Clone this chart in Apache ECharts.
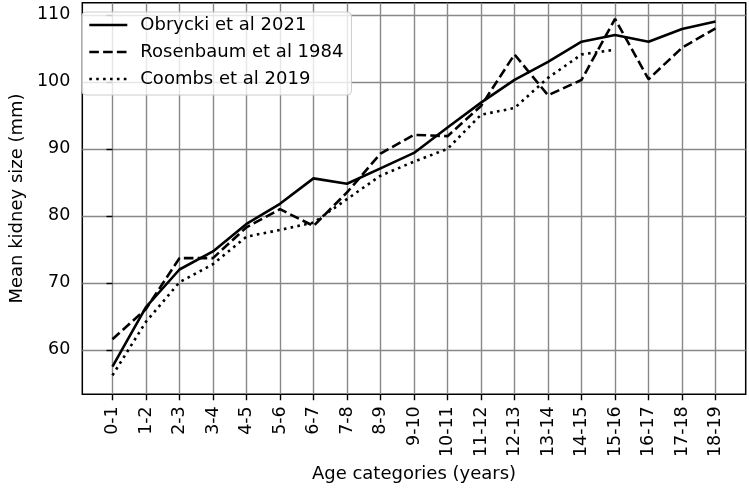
<!DOCTYPE html>
<html>
<head>
<meta charset="utf-8">
<script src="https://cdn.jsdelivr.net/npm/echarts@6/dist/echarts.min.js"></script>
<style>
  html, body { margin: 0; padding: 0; background: #fff; }
  #main { width: 749px; height: 488px; }
</style>
</head>
<body>
<div id="main"></div>
<script>
const categories = ['0-1', '1-2', '2-3', '3-4', '4-5', '5-6', '6-7', '7-8', '8-9', '9-10',
  '10-11', '11-12', '12-13', '13-14', '14-15', '15-16', '16-17', '17-18', '18-19'];

const obrycki = [57.5, 66.4, 72.0, 74.7, 78.8, 81.8, 85.6, 84.8, 87.1, 89.4,
  93.2, 96.9, 100.3, 103.0, 106.0, 107.0, 106.0, 107.9, 109.0];
const rosenbaum = [61.6, 66.1, 73.7, 73.7, 78.3, 81.0, 78.5, 83.5, 89.3, 92.1,
  91.9, 96.4, 104.1, 98.0, 100.3, 109.4, 100.4, 105.1, 108.0];
const coombs = [56.2, 64.2, 70.1, 72.8, 76.9, 77.9, 79.0, 82.5, 86.0, 88.1,
  90.0, 95.1, 96.1, 100.6, 104.1, 104.8, null, null, null];

const yTicks = [60, 70, 80, 90, 100, 110];
const xTicks = categories.map((c, i) => i);

const font = 'DejaVu Sans';

function pairs(values) {
  return values.map((v, i) => [i, v]);
}

const chart = echarts.init(document.getElementById('main'));

const option = {
  animation: false,
  backgroundColor: '#fff',
  textStyle: { fontFamily: font },
  grid: {
    left: 72.7,
    right: 3.3,
    top: 2.7,
    bottom: 92,
    show: true,
    borderColor: '#000',
    borderWidth: 1.5,
    containLabel: false
  },
  legend: {
    orient: 'vertical',
    left: 82,
    top: 12,
    padding: [3, 8, 6, 6],
    itemWidth: 38,
    itemHeight: 14,
    itemGap: 7,
    backgroundColor: 'rgba(255,255,255,0.8)',
    borderColor: '#cccccc',
    borderWidth: 1,
    borderRadius: 4,
    // hide the default circle marker, keep only the line sample
    itemStyle: { color: 'rgba(0,0,0,0)', borderWidth: 0, opacity: 0 },
    lineStyle: { width: 2.6 },
    textStyle: {
      fontFamily: font,
      fontSize: 18,
      color: '#000',
      lineHeight: 20,
      padding: [0, 0, 0, 8]
    },
    data: ['Obrycki et al 2021', 'Rosenbaum et al 1984', 'Coombs et al 2019']
  },
  xAxis: {
    type: 'value',
    min: -0.9,
    max: 18.9,
    name: 'Age categories (years)',
    nameLocation: 'middle',
    nameGap: 66,
    nameTextStyle: { fontFamily: font, fontSize: 18, color: '#000' },
    axisLine: { show: false },
    axisTick: {
      show: true,
      length: 6,
      customValues: xTicks,
      lineStyle: { color: '#000', width: 1.4 }
    },
    axisLabel: {
      customValues: xTicks,
      rotate: 90,
      margin: 12,
      fontFamily: font,
      fontSize: 17.5,
      color: '#000',
      formatter: function (v) { return categories[Math.round(v)]; }
    },
    splitLine: {
      show: true,
      customValues: xTicks,
      lineStyle: { color: '#888', width: 1.4 }
    }
  },
  yAxis: {
    type: 'value',
    min: 53.38,
    max: 111.82,
    name: 'Mean kidney size (mm)',
    nameLocation: 'middle',
    nameRotate: 90,
    nameGap: 53,
    nameTextStyle: { fontFamily: font, fontSize: 18, color: '#000' },
    axisLine: { show: false },
    axisTick: {
      show: true,
      length: 6,
      customValues: yTicks,
      lineStyle: { color: '#000', width: 1.4 }
    },
    axisLabel: {
      customValues: yTicks,
      margin: 12,
      fontFamily: font,
      fontSize: 17.5,
      color: '#000'
    },
    splitLine: {
      show: true,
      customValues: yTicks,
      lineStyle: { color: '#888', width: 1.4 }
    }
  },
  series: [
    {
      name: 'Obrycki et al 2021',
      type: 'line',
      symbol: 'none',
      data: pairs(obrycki),
      lineStyle: { color: '#000', width: 2.6, type: 'solid' },
      itemStyle: { color: '#000' }
    },
    {
      name: 'Rosenbaum et al 1984',
      type: 'line',
      symbol: 'none',
      data: pairs(rosenbaum),
      lineStyle: { color: '#000', width: 2.6, type: [9.6, 4.2], cap: 'butt' },
      itemStyle: { color: '#000' }
    },
    {
      name: 'Coombs et al 2019',
      type: 'line',
      symbol: 'none',
      data: pairs(coombs),
      lineStyle: { color: '#000', width: 2.6, type: [2.6, 4.3], cap: 'butt' },
      itemStyle: { color: '#000' }
    }
  ]
};

chart.setOption(option);
</script>
</body>
</html>
